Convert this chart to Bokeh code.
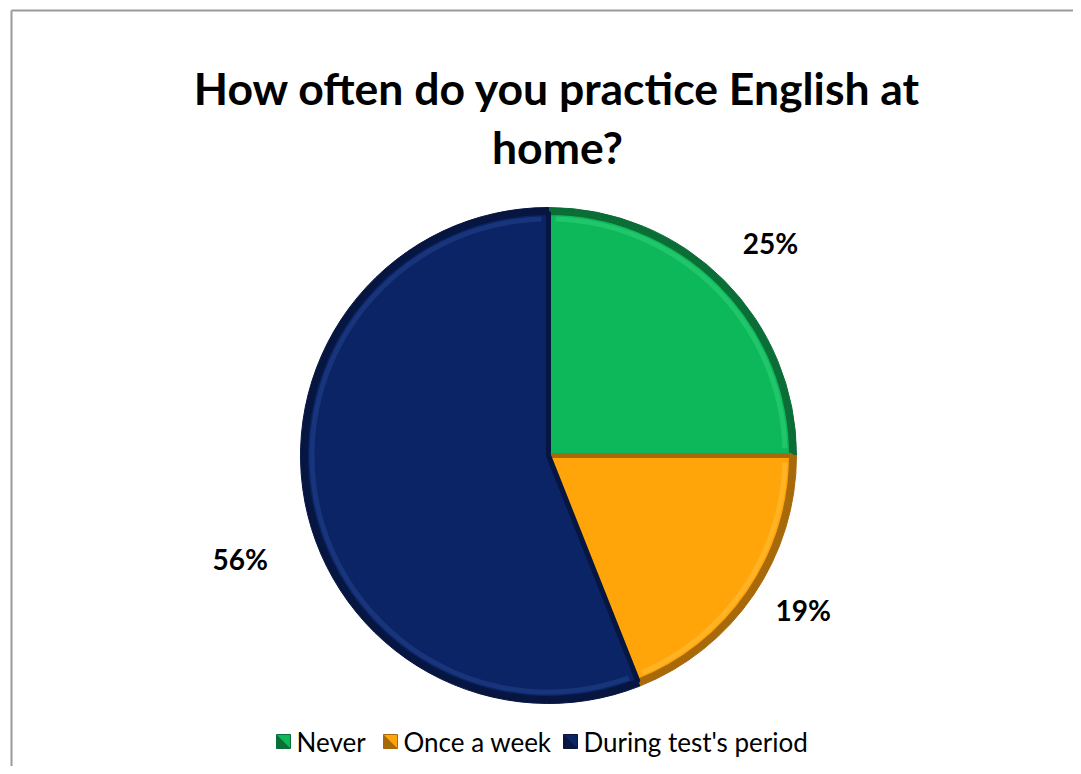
import math
from bokeh.plotting import figure
from bokeh.models import Range1d
from bokeh.core.properties import value
from bokeh.embed import file_html
from bokeh.resources import INLINE

# ---- data ----
categories = ["Never", "Once a week", "During test's period"]
percent = [25, 19, 56]
colors = ["#0DB85A", "#FFA50A", "#0A2466"]
edge_colors = ["#0A6E36", "#A8690A", "#061640"]
light_colors = ["#3AD47E", "#FFC548", "#2A4A94"]
title_lines = ["How often do you practice English at", "home?"]

W, H = 1073, 766
FONT = "Lato"

p = figure(width=W, height=H, output_backend="svg", toolbar_location=None,
           x_range=Range1d(0, W), y_range=Range1d(0, H), min_border=0)
p.axis.visible = False
p.grid.visible = False
p.outline_line_color = None
p.background_fill_color = "white"
p.border_fill_color = "white"

def Y(py):  # picture pixel -> data y
    return H - py

def X(px):
    return px

# chart border (only left and top visible in the crop)
p.segment(x0=[X(11), X(11)], y0=[Y(10), Y(10)], x1=[X(11), W], y1=[0, Y(10)],
          line_color="#9a9a9a", line_width=2)

# title
p.text(x=[X(557)] * 2, y=[Y(87), Y(146)], text=title_lines,
       text_font=value(FONT), text_font_style="bold", text_font_size="44.5px",
       text_align="center", text_baseline="middle", text_color="black")

# pie
cx, cy, R = X(548), Y(455), 248
total = sum(percent)
cum = 0
starts, ends, mids = [], [], []
for v in percent:
    a0 = math.pi / 2 - 2 * math.pi * cum / total
    cum += v
    a1 = math.pi / 2 - 2 * math.pi * cum / total
    starts.append(a0)
    ends.append(a1)
    mids.append((a0 + a1) / 2)

p.wedge(x=[cx] * 3, y=[cy] * 3, radius=R, start_angle=starts, end_angle=ends,
        direction="clock", fill_color=edge_colors, line_color=edge_colors, line_width=1)
p.wedge(x=[cx] * 3, y=[cy] * 3, radius=R - 5, start_angle=starts, end_angle=ends,
        direction="clock", fill_color=colors, line_color=edge_colors, line_width=5)
p.annular_wedge(x=[cx] * 3, y=[cy] * 3, inner_radius=R - 14, outer_radius=R - 9,
                start_angle=[s - 0.03 for s in starts], end_angle=[e + 0.03 for e in ends],
                direction="clock", fill_color=light_colors, fill_alpha=0.45, line_color=None)

# data labels (placed near each slice's mid angle, outside the pie)
lab_r = [307, 298, 325]
lab_shift = [-1.3, 2.9, 7.7]  # degrees, nudges as in the original layout
la = [m + math.radians(s) for m, s in zip(mids, lab_shift)]
lx = [cx + r * math.cos(a) for r, a in zip(lab_r, la)]
ly = [cy + r * math.sin(a) for r, a in zip(lab_r, la)]
p.text(x=lx, y=ly, text=[f"{v}%" for v in percent],
       text_font=value(FONT), text_font_style="bold", text_font_size="28px",
       text_align="center", text_baseline="middle", text_color="black")

# legend
leg_x = [X(283), X(390), X(570)]
leg_y = Y(741)
p.rect(x=leg_x, y=[leg_y] * 3, width=14, height=14, fill_color=colors,
       line_color=edge_colors, line_width=1)
p.patches(xs=[[x - 7, x - 7, x + 7] for x in leg_x],
          ys=[[leg_y + 7, leg_y - 7, leg_y - 7] for _ in leg_x],
          fill_color=edge_colors, line_color=None)
p.text(x=[x + 13 for x in leg_x], y=[leg_y] * 3, text=categories,
       text_font=value(FONT), text_font_size="26px",
       text_align="left", text_baseline="middle", text_color="black")

open("out.html", "w").write(file_html(p, INLINE))
